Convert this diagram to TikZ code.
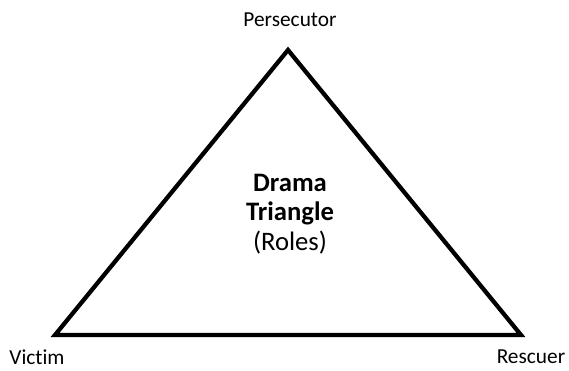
\documentclass[tikz,border=0pt]{standalone}
\usepackage{fontspec}
\setmainfont{Carlito}[Ligatures=NoCommon]
\usetikzlibrary{calc}

\begin{document}
\begin{tikzpicture}[x=0.75pt,y=-0.75pt]

% Fix the frame
\useasboundingbox (0,0) rectangle (569,371);

% Define vertices of the triangle
\coordinate (P) at (288,50);     % Top
\coordinate (V) at (55,335);     % Bottom left
\coordinate (R) at (521,335);    % Bottom right

% Draw the triangle
\draw[line width=3.2pt, line join=miter] (P) -- (V) -- (R) -- cycle;

% Vertex labels
\node[font=\fontsize{16}{19}\selectfont] (persecutor) at (290,20) {Persecutor};
\node[font=\fontsize{16}{19}\selectfont] (victim) at (37,357) {Victim};
\node[font=\fontsize{16}{19}\selectfont] (rescuer) at (531,357) {Rescuer};

% Title in the middle
\node[font=\fontsize{20}{22}\selectfont, align=center] (title) at (290,214)
  {\textbf{Drama}\\\textbf{Triangle}\\(Roles)};

\end{tikzpicture}
\end{document}
